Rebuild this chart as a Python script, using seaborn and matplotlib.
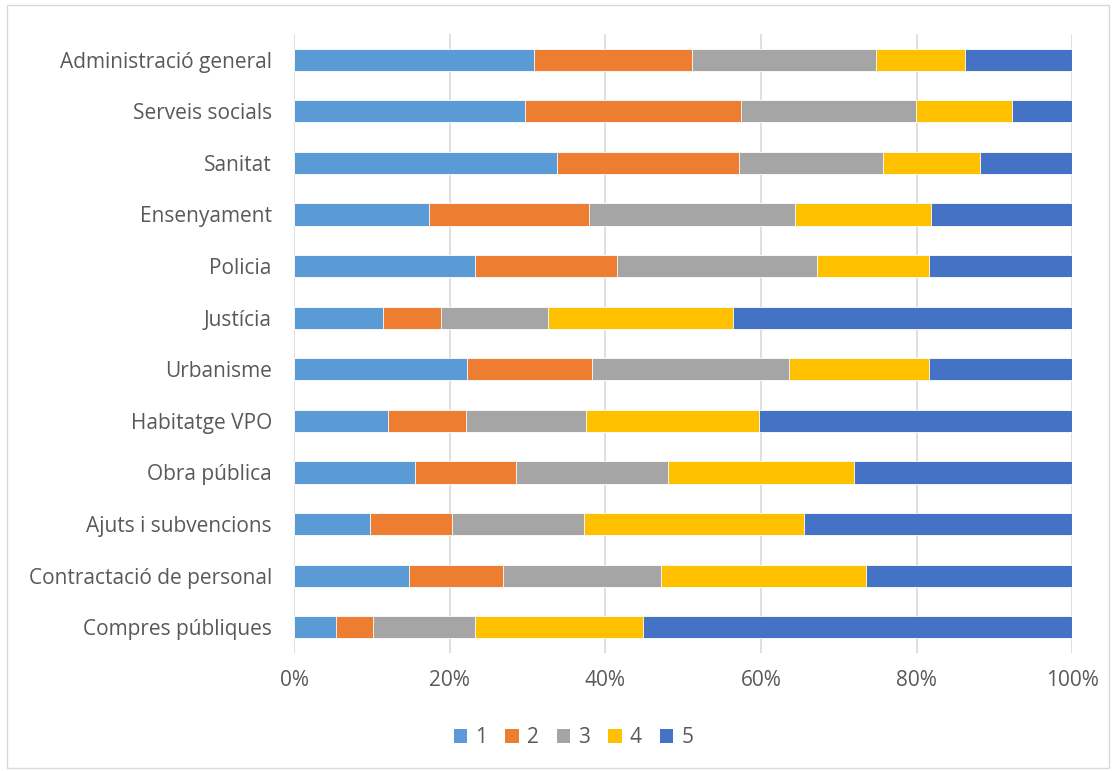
import matplotlib
matplotlib.use("Agg")
import matplotlib.pyplot as plt
from matplotlib.patches import Patch, Rectangle
import seaborn as sns
import pandas as pd
import numpy as np

# categories, top to bottom
categories = ["Administració general", "Serveis socials", "Sanitat", "Ensenyament",
              "Policia", "Justícia", "Urbanisme", "Habitatge VPO", "Obra pública",
              "Ajuts i subvencions", "Contractació de personal", "Compres públiques"]

# share of answers (%) for each score
s1 = [30.8, 29.7, 33.8, 17.3, 23.2, 11.4, 22.2, 12.1, 15.6, 9.7, 14.8, 5.4]
s2 = [20.4, 27.8, 23.4, 20.6, 18.3, 7.5, 16.1, 10.0, 12.9, 10.6, 12.0, 4.7]
s3 = [23.6, 22.4, 18.5, 26.5, 25.7, 13.8, 25.3, 15.4, 19.5, 17.0, 20.3, 13.1]
s4 = [11.4, 12.4, 12.4, 17.5, 14.4, 23.7, 18.0, 22.3, 23.9, 28.2, 26.4, 21.7]
s5 = [13.8, 7.7, 11.9, 18.1, 18.4, 43.6, 18.4, 40.2, 28.1, 34.5, 26.5, 55.1]

series = ["1", "2", "3", "4", "5"]
colors = ["#5B9BD5", "#ED7D31", "#A5A5A5", "#FFC000", "#4472C4"]

df = pd.DataFrame({"1": s1, "2": s2, "3": s3, "4": s4, "5": s5}, index=categories)
cum = df.cumsum(axis=1)

sns.set_theme(style="white")
plt.rcParams["font.family"] = ["Open Sans", "DejaVu Sans"]
text_color = "#595959"

fig = plt.figure(figsize=(11.18, 7.71), dpi=100)
ax = fig.add_axes([0.263, 0.153, 0.696, 0.803])

# draw stacked bars: largest cumulative first so the earlier segments sit on top
for name, col in reversed(list(zip(series, colors))):
    d = pd.DataFrame({"cat": categories, "val": cum[name].values})
    sns.barplot(data=d, x="val", y="cat", color=col, orient="h", width=0.43,
                edgecolor="white", linewidth=0.6, saturation=1, ax=ax)

ax.set_xlim(0, 100)
ax.set_xticks(np.arange(0, 101, 20))
ax.set_xticklabels([f"{v}%" for v in range(0, 101, 20)])
ax.xaxis.grid(True, color="#D9D9D9", linewidth=1.2)
ax.set_axisbelow(True)
for sp in ax.spines.values():
    sp.set_visible(False)
ax.set_xlabel("")
ax.set_ylabel("")
ax.tick_params(axis="both", length=0, labelsize=15, colors=text_color)
ax.tick_params(axis="x", pad=12)
ax.tick_params(axis="y", pad=16)

handles = [Patch(facecolor=c, edgecolor="none", label=s) for s, c in zip(series, colors)]
fig.legend(handles=handles, loc="center", bbox_to_anchor=(0.513, 0.043), ncol=5,
           frameon=False, fontsize=15, handlelength=0.65, handleheight=0.65,
           handletextpad=0.4, columnspacing=0.85, labelcolor=text_color)

# chart border
fig.patches.append(Rectangle((0.006, 0.004), 0.986, 0.99, transform=fig.transFigure,
                             fill=False, edgecolor="#D9D9D9", linewidth=1))

fig.savefig("out.png", dpi=100)
